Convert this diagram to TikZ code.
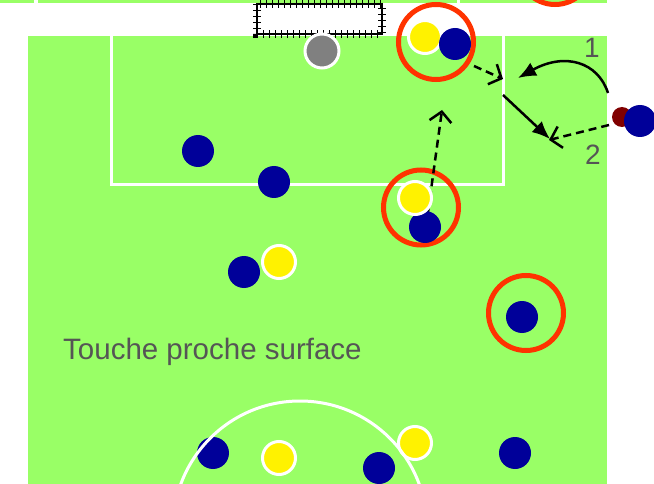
\documentclass[tikz,border=0pt]{standalone}
\usepackage{fontspec}
\setmainfont{Liberation Sans}
\usetikzlibrary{arrows.meta}
\definecolor{fieldgreen}{RGB}{153,255,102}
\definecolor{pblue}{RGB}{0,0,153}
\definecolor{hred}{RGB}{255,51,0}
\definecolor{ggrey}{RGB}{128,128,128}
\definecolor{dred}{RGB}{128,0,0}
\definecolor{tgrey}{RGB}{85,85,85}
\begin{document}
\begin{tikzpicture}[x=1pt,y=-1pt,
  bplayer/.style={circle,inner sep=0pt,minimum size=32pt,fill=pblue},
  yplayer/.style={circle,inner sep=0pt,minimum size=33pt,fill=yellow,draw=white,line width=3pt},
  hilite/.style={circle,inner sep=0pt,minimum size=75pt,draw=hred,line width=5pt},
  fieldline/.style={white,line width=3pt},
  runarrow/.style={black,line width=2.5pt,-{Latex[length=18pt,width=15pt]}},
  passarrow/.style={black,line width=2.5pt,dash pattern=on 8pt off 5pt,-{Straight Barb[length=10pt,width=22pt]}},
  lbl/.style={text=tgrey,inner sep=0pt}
]
\useasboundingbox (0,0) rectangle (654,484);
\fill[white] (0,0) rectangle (654,484);
% top strip (other field)
\fill[fieldgreen] (0,0) rectangle (607,3.5);
\fill[white] (34,0) rectangle (37.5,3.5);
\fill[white] (457,0) rectangle (460,3.5);
% main field
\fill[fieldgreen] (28,36) rectangle (607,484);
\draw[fieldline] (111,36) -- (111,185) -- (503,185) -- (503,36);
% goal
\draw[black,line width=1.2pt] (257,4) rectangle (382,34);
\draw[black,line width=8pt,dash pattern=on 1.4pt off 4.6pt] (257,4) rectangle (382,34);
% highlight circles
\node[hilite] (h1) at (436,42) {};
\node[hilite] (h2) at (555,-33) {};
\node[hilite] (h3) at (421,207.5) {};
\node[hilite] (h4) at (526,313) {};
% arrow end points
\coordinate (p1s) at (474,66);
\coordinate (p1e) at (503,79);
\coordinate (p2s) at (428,212);
\coordinate (p2e) at (442,110);
\coordinate (r1s) at (608,93);
\coordinate (r1e) at (518,78);
\coordinate (r2s) at (503,95);
\coordinate (r2e) at (550,139);
\coordinate (p3s) at (609,125);
\coordinate (p3e) at (549,140);
\draw[passarrow] (p1s) -- (p1e);
\draw[passarrow] (p2s) -- (p2e);
\draw[passarrow] (p3s) -- (p3e);
\draw[runarrow] (r1s) .. controls (598,62) and (565,52) .. (r1e);
\draw[runarrow] (r2s) -- (r2e);
% ball
\node[circle,inner sep=0pt,minimum size=34pt,fill=ggrey,draw=white,line width=3pt] (ball) at (322,51) {};
% players
\node[yplayer] (y1) at (425,37) {};
\node[bplayer] (b1) at (455,44) {};
\node[bplayer] (b2) at (198,151) {};
\node[bplayer] (b3) at (274,182) {};
\node[bplayer] (b4) at (425,227) {};
\node[yplayer] (y2) at (415,198) {};
\node[bplayer] (b5) at (244,272) {};
\node[yplayer] (y3) at (279,262) {};
\node[bplayer] (b6) at (522,317) {};
\node[bplayer] (b7) at (213,453) {};
\node[yplayer] (y4) at (279,458) {};
\node[bplayer] (b8) at (379,468) {};
\node[yplayer] (y5) at (415,443) {};
\node[bplayer] (b9) at (515,453) {};
\node[circle,inner sep=0pt,minimum size=20pt,fill=dred] (d1) at (622,117) {};
\node[bplayer] (b10) at (640,121) {};
% centre arc
\begin{scope}
\clip (28,36) rectangle (607,484);
\draw[fieldline] (300,528) circle (127pt);
\end{scope}
% labels
\node[lbl,font=\fontsize{28}{32}\selectfont] (n1) at (592,48) {1};
\node[lbl,font=\fontsize{28}{32}\selectfont] (n2) at (593,155) {2};
\node[lbl,font=\fontsize{29.5}{34}\selectfont,anchor=base west] (txt) at (63,359) {Touche proche surface};
\end{tikzpicture}
\end{document}
